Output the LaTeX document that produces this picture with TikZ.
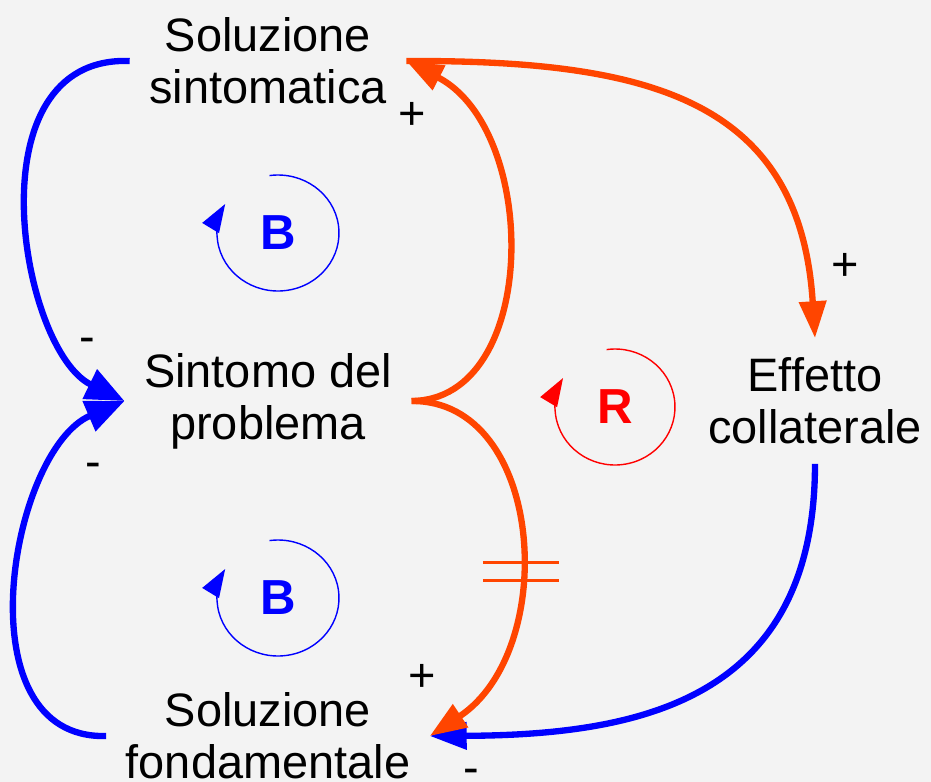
\documentclass[tikz,border=0pt]{standalone}
\usepackage{fontspec}
\setmainfont{Liberation Sans}
\usepackage{xcolor}
\usepackage{tikz}
\usetikzlibrary{arrows.meta, calc}

\definecolor{oranred}{RGB}{255,69,0}
\definecolor{bggray}{RGB}{243,243,243}

\begin{document}
\begin{tikzpicture}[x=0.02cm, y=-0.02cm,
  var/.style={font=\fontsize{26.7}{29.6}\selectfont, align=center,
              inner sep=11pt},
  sgn/.style={font=\fontsize{26.7}{29.6}\selectfont, inner sep=0pt},
  barr/.style={-{Triangle[length=21pt, width=15pt]}, line width=3.6pt, blue},
  bbig/.style={barr, -{Triangle[length=22pt, width=18pt]}},
  oarr/.style={-{Triangle[length=21pt, width=15pt]}, line width=3.6pt, oranred},
  dmark/.style={line width=1.6pt, oranred},
  loopArr/.style={-{Triangle[length=16pt, width=11pt]}, line width=0.8pt},
  loopLbl/.style={font=\fontsize{28}{30}\selectfont\bfseries},
]

% ---- Background ------------------------------------------------------------
\useasboundingbox[fill=bggray] (0,0) rectangle (931,782);

% ---- Variables -------------------------------------------------------------
\node[var] (solSint) at (268,61) {Soluzione\\sintomatica};
\node[var] (sintomo) at (268,401) {Sintomo del\\problema};
\node[var] (effetto) at (815,401) {Effetto\\collaterale};
\node[var] (solFond) at (268,736) {Soluzione\\fondamentale};

% ---- Balancing links (blue) ------------------------------------------------
\draw[bbig] (solSint.west) .. controls (-30,55) and (20,350) .. (sintomo.west);
\draw[bbig] (solFond.west) .. controls (-40,740) and (10,450) .. (sintomo.west);
\draw[barr] (effetto.south) .. controls (815,700) and (640,735) .. (solFond.east);

% ---- Reinforcing links (orange) --------------------------------------------
\draw[oarr] (sintomo.east) .. controls (540,400) and (540,130) .. (solSint.east);
\draw[oarr] (sintomo.east) .. controls (545,400) and (560,650) .. (solFond.east)
  coordinate[pos=0.58] (dly);
\draw[oarr] (solSint.east) .. controls (650,60) and (800,100) .. (effetto.north);

% delay
\draw[dmark] ($(dly)+(-36,-9)$) -- ($(dly)+(40,-9)$);
\draw[dmark] ($(dly)+(-36,9)$) -- ($(dly)+(40,9)$);

% ---- Polarities ------------------------------------------------------------
\node[sgn] (pSint) at (412,116) {+};
\node[sgn] (pEff) at (845,267) {+};
\node[sgn] (mTop) at (87,345) {-};
\node[sgn] (mBot) at (93,470) {-};
\node[sgn] (pFond) at (422,678) {+};
\node[sgn] (mFond) at (471,776) {-};

% ---- Loop markers ----------------------------------------------------------
\node[loopLbl, blue] (loopB1) at (278,233) {B};
\draw[loopArr, blue] ([shift={(98:1.22cm and 1.16cm)}]loopB1.center)
  arc[start angle=98, end angle=-210, x radius=1.22cm, y radius=1.16cm];

\node[loopLbl, red] (loopR) at (615,407) {R};
\draw[loopArr, red] ([shift={(98:1.2cm and 1.16cm)}]loopR.center)
  arc[start angle=98, end angle=-210, x radius=1.2cm, y radius=1.16cm];

\node[loopLbl, blue] (loopB2) at (278,598) {B};
\draw[loopArr, blue] ([shift={(98:1.22cm and 1.16cm)}]loopB2.center)
  arc[start angle=98, end angle=-210, x radius=1.22cm, y radius=1.16cm];

\end{tikzpicture}
\end{document}
